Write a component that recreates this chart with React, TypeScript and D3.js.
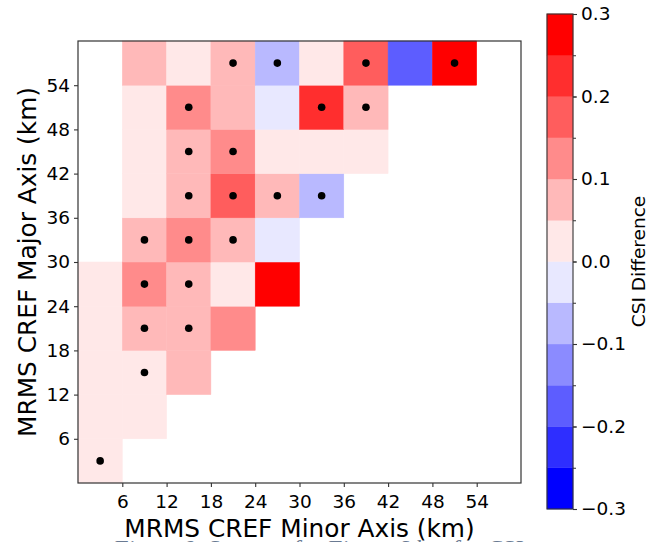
import React, { useEffect, useRef } from "react";
import * as d3 from "d3";

// cell centres (km) along each axis
const minorKm = [3, 9, 15, 21, 27, 33, 39, 45, 51, 57];
const majorKm = [3, 9, 15, 21, 27, 33, 39, 45, 51, 57];

// CSI difference, one row per major-axis bin (bottom row first), null = no data
const row0 = [0.025, null, null, null, null, null, null, null, null, null];
const row1 = [0.025, 0.025, null, null, null, null, null, null, null, null];
const row2 = [0.025, 0.025, 0.075, null, null, null, null, null, null, null];
const row3 = [0.025, 0.075, 0.075, 0.125, null, null, null, null, null, null];
const row4 = [0.025, 0.125, 0.075, 0.025, 0.275, null, null, null, null, null];
const row5 = [null, 0.075, 0.125, 0.075, -0.025, null, null, null, null, null];
const row6 = [null, 0.025, 0.075, 0.175, 0.075, -0.075, null, null, null, null];
const row7 = [null, 0.025, 0.075, 0.125, 0.025, 0.025, 0.025, null, null, null];
const row8 = [null, 0.025, 0.125, 0.075, -0.025, 0.225, 0.075, null, null, null];
const row9 = [null, 0.075, 0.025, 0.075, -0.075, 0.025, 0.175, -0.175, 0.275, null];
const csiDiff = [row0, row1, row2, row3, row4, row5, row6, row7, row8, row9];

// significant cells as [minor, major] centres
const significant = [
  [3, 3], [9, 15], [9, 21], [15, 21], [9, 27], [15, 27],
  [9, 33], [15, 33], [21, 33], [15, 39], [21, 39], [27, 39], [33, 39],
  [15, 45], [21, 45], [15, 51], [33, 51], [39, 51],
  [21, 57], [27, 57], [39, 57], [51, 57],
];

const axisTicks = [6, 12, 18, 24, 30, 36, 42, 48, 54];
const levels = [-0.3, -0.25, -0.2, -0.15, -0.1, -0.05, 0, 0.05, 0.1, 0.15, 0.2, 0.25, 0.3];
const colorbarTicks = [-0.3, -0.2, -0.1, 0, 0.1, 0.2, 0.3];

// matplotlib "bwr"
function bwr(t) {
  const r = t < 0.5 ? 2 * t : 1;
  const b = t > 0.5 ? 2 * (1 - t) : 1;
  const g = t < 0.5 ? 2 * t : 2 * (1 - t);
  return d3.rgb(r * 255, g * 255, b * 255).formatHex();
}

const FONT = "'DejaVu Sans', sans-serif";

function styleAxis(g) {
  g.select(".domain").remove();
  g.selectAll(".tick line").attr("stroke", "#333").attr("stroke-width", 1.1);
  g.selectAll(".tick text").attr("font-family", FONT).attr("font-size", 18.5).attr("fill", "black");
}

export default function App() {
  const node = useRef(null);

  useEffect(() => {
    const svg = d3.select(node.current);
    svg.selectAll("*").remove();

    const x = d3.scaleLinear().domain([0, 60]).range([78, 521]);
    const y = d3.scaleLinear().domain([0, 60]).range([483, 41]);
    const nBins = levels.length - 1;
    const binColors = d3.range(nBins).map((k) => bwr(k / (nBins - 1)));
    const color = d3.scaleThreshold().domain(levels.slice(1, -1)).range(binColors);

    // heatmap cells
    const cells = [];
    csiDiff.forEach((row, j) =>
      row.forEach((v, i) => {
        if (v !== null) cells.push({ mi: minorKm[i], ma: majorKm[j], v: v });
      })
    );
    svg.append("g")
      .selectAll("rect")
      .data(cells)
      .enter()
      .append("rect")
      .attr("x", (d) => x(d.mi - 3))
      .attr("y", (d) => y(d.ma + 3))
      .attr("width", x(6) - x(0))
      .attr("height", y(0) - y(6))
      .attr("fill", (d) => color(d.v))
      .attr("stroke", (d) => color(d.v))
      .attr("stroke-width", 0.5);

    svg.append("g")
      .selectAll("circle")
      .data(significant)
      .enter()
      .append("circle")
      .attr("cx", (d) => x(d[0]))
      .attr("cy", (d) => y(d[1]))
      .attr("r", 3.8)
      .attr("fill", "black");

    // frame
    svg.append("rect")
      .attr("x", x(0)).attr("y", y(60))
      .attr("width", x(60) - x(0)).attr("height", y(0) - y(60))
      .attr("fill", "none").attr("stroke", "#333").attr("stroke-width", 1.2);

    svg.append("g")
      .attr("transform", "translate(0," + y(0) + ")")
      .call(d3.axisBottom(x).tickValues(axisTicks).tickSize(4).tickPadding(8).tickFormat(d3.format("d")))
      .call(styleAxis);

    svg.append("g")
      .attr("transform", "translate(" + x(0) + ",0)")
      .call(d3.axisLeft(y).tickValues(axisTicks).tickSize(4).tickPadding(4).tickFormat(d3.format("d")))
      .call(styleAxis);

    svg.append("text")
      .attr("x", (x(0) + x(60)) / 2).attr("y", 537)
      .attr("text-anchor", "middle")
      .attr("font-family", FONT).attr("font-size", 24.8)
      .text("MRMS CREF Minor Axis (km)");

    svg.append("text")
      .attr("transform", "translate(36," + (y(0) + y(60)) / 2 + ") rotate(-90)")
      .attr("text-anchor", "middle")
      .attr("font-family", FONT).attr("font-size", 24.8)
      .text("MRMS CREF Major Axis (km)");

    // colorbar
    const cb = d3.scaleLinear().domain([-0.3, 0.3]).range([509, 14]);
    const cbX = 547;
    const cbW = 26;
    svg.append("g")
      .selectAll("rect")
      .data(d3.range(nBins))
      .enter()
      .append("rect")
      .attr("x", cbX)
      .attr("y", (k) => cb(levels[k + 1]))
      .attr("width", cbW)
      .attr("height", (k) => cb(levels[k]) - cb(levels[k + 1]))
      .attr("fill", (k) => binColors[k])
      .attr("stroke", (k) => binColors[k])
      .attr("stroke-width", 0.4);
    svg.append("rect")
      .attr("x", cbX).attr("y", cb(0.3))
      .attr("width", cbW).attr("height", cb(-0.3) - cb(0.3))
      .attr("fill", "none").attr("stroke", "#333").attr("stroke-width", 1.1);

    svg.append("g")
      .attr("transform", "translate(" + (cbX + cbW) + ",0)")
      .call(d3.axisRight(cb).tickValues(levels).tickSize(3).tickFormat(() => ""))
      .call((g) => {
        g.select(".domain").remove();
        g.selectAll(".tick line").attr("stroke", "#333");
      });
    svg.append("g")
      .attr("transform", "translate(" + (cbX + cbW) + ",0)")
      .call(d3.axisRight(cb).tickValues(colorbarTicks).tickSize(4).tickPadding(4).tickFormat(d3.format(".1f")))
      .call(styleAxis);

    svg.append("text")
      .attr("transform", "translate(645," + (cb(-0.3) + cb(0.3)) / 2 + ") rotate(-90)")
      .attr("text-anchor", "middle")
      .attr("font-family", FONT).attr("font-size", 18.5)
      .text("CSI Difference");

    // caption from the source document, cut off by the image edge
    svg.append("text")
      .attr("x", 113).attr("y", 556)
      .attr("font-family", "'Liberation Serif', serif").attr("font-style", "italic")
      .attr("font-size", 24).attr("fill", "#6a7a92")
      .text("Figure 9. Same as for Figure 6 but for CSI");
  }, []);

  return (
    <svg
      ref={node}
      width={662}
      height={542}
      style={{ position: "absolute", left: 0, top: 0, background: "white" }}
    />
  );
}
